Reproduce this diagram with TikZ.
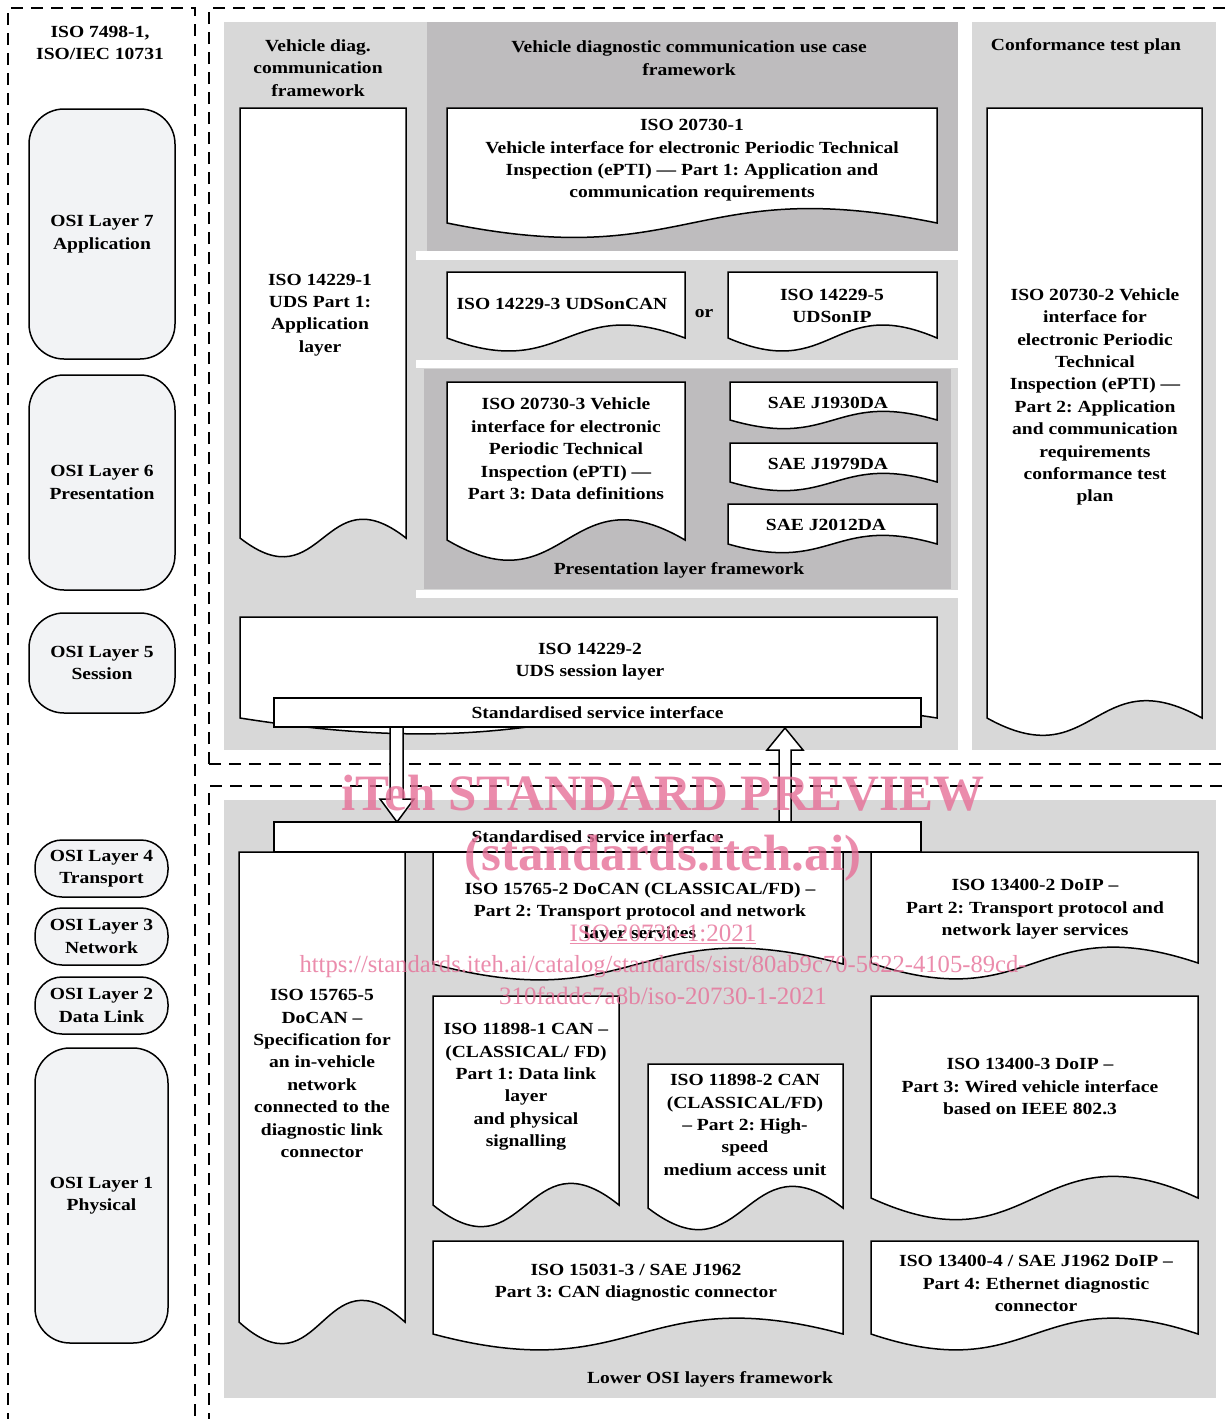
\documentclass[tikz,border=0pt]{standalone}
\usepackage{fontspec}
\setmainfont{Liberation Serif}[FakeStretch=1.15]
\newfontfamily\wmfont{Liberation Serif}
\definecolor{lgray}{RGB}{216,216,216}
\definecolor{dgray}{RGB}{190,188,190}
\definecolor{osifill}{RGB}{242,243,245}
\definecolor{wmpink}{RGB}{230,112,152}
\tikzset{
 dashbox/.style={line width=2.2pt, dash pattern=on 12pt off 8pt},
 docstyle/.style={draw=black, fill=white, line width=1.5pt, line join=miter},
 txt/.style={align=center, inner sep=0pt, yshift=-2pt, font=\frenchspacing\bfseries\fontsize{17}{22.4}\selectfont},
 osi/.style={txt, yshift=2pt, draw=black, fill=osifill, line width=1.5pt, rounded corners=35pt},
 bar/.style={txt, yshift=2pt, draw=black, fill=white, line width=1.5pt},
 blockarrow/.style={draw=black, fill=white, line width=1.5pt, line join=miter},
 wm/.style={text=wmpink, text opacity=0.8, inner sep=0pt},
}
% #1 x0, #2 ytop, #3 x1, #4 ycorner, #5 wave control
\newcommand\mydoc[5]{%
 \filldraw[docstyle] (#1,#4) -- (#1,#2) -- (#3,#2) -- (#3,#4)
   .. controls ({(#1+#3)/2},{#4-#5}) and ({(#1+#3)/2},{#4+#5}) .. (#1,#4) -- cycle;}
\begin{document}
\begin{tikzpicture}[x=1pt,y=-1pt]
\useasboundingbox (0,0) rectangle (1226,1419);
\fill[white] (0,0) rectangle (1226,1419);
% ---------- panels
\fill[lgray] (224,22) rectangle (958,750);
\fill[dgray] (427,22) rectangle (958,251);
\fill[white] (416,251) rectangle (958,260);
\fill[white] (416,360) rectangle (958,368);
\fill[dgray] (424,369) rectangle (951,589);
\fill[white] (416,590) rectangle (958,598);
\fill[lgray] (972,22) rectangle (1216,750);
\fill[lgray] (224,800) rectangle (1216,1398);
% ---------- dashed frames
\draw[dashbox] (8,1425) -- (8,8) -- (195,8) -- (195,1425);
\draw[dashbox] (209,764) -- (209,8) -- (1230,8);
\draw[dashbox] (209,764) -- (1230,764);
\draw[dashbox] (209,1425) -- (209,786) -- (1230,786);
% ---------- left column
\node[txt] (isoosi) at (100,41) {ISO 7498-1,\\ISO/IEC 10731};
\node[osi, minimum width=146pt, minimum height=250pt] (osi7) at (102,234) {OSI Layer 7\\Application};
\node[osi, minimum width=146pt, minimum height=215pt] (osi6) at (102,482.5) {OSI Layer 6\\Presentation};
\node[osi, minimum width=146pt, minimum height=100pt] (osi5) at (102,663) {OSI Layer 5\\Session};
\node[osi, minimum width=133pt, minimum height=57pt, rounded corners=27pt] (osi4) at (101.5,868.5) {OSI Layer 4\\Transport};
\node[osi, minimum width=133pt, minimum height=57pt, rounded corners=27pt] (osi3) at (101.5,936.5) {OSI Layer 3\\Network};
\node[osi, minimum width=133pt, minimum height=57pt, rounded corners=27pt] (osi2) at (101.5,1005.5) {OSI Layer 2\\Data Link};
\node[osi, minimum width=133pt, minimum height=295pt] (osi1) at (101.5,1195.5) {OSI Layer 1\\Physical};
% ---------- upper part
\node[txt] (vdcf) at (318,66) {Vehicle diag.\\communication\\framework};
\mydoc{240}{108}{406}{538}{65}
\node[txt] (iso142291) at (320,313) {ISO 14229-1\\UDS Part 1:\\Application\\layer};
\node[txt] (usecase) at (689,56) {Vehicle diagnostic communication use case\\framework};
\mydoc{447}{108}{937}{223}{50}
\node[txt] (iso207301) at (692,158.5) {ISO 20730-1\\Vehicle interface for electronic Periodic Technical\\Inspection (ePTI) --- Part 1: Application and\\communication requirements};
\mydoc{447}{272}{685}{338}{45}
\node[txt] (udsoncan) at (562,302) {ISO 14229-3 UDSonCAN};
\node[txt] (or) at (704,312) {or};
\mydoc{728}{272}{937}{338}{45}
\node[txt] (udsonip) at (832,304) {ISO 14229-5\\UDSonIP};
\mydoc{447}{382}{685}{540}{70}
\node[txt] (iso207303) at (566,447) {ISO 20730-3 Vehicle\\interface for electronic\\Periodic Technical\\Inspection (ePTI) ---\\Part 3: Data definitions};
\mydoc{730}{382}{937}{420}{30}
\node[txt] (j1930) at (828,401) {SAE J1930DA};
\mydoc{730}{443}{937}{482}{30}
\node[txt] (j1979) at (828,462) {SAE J1979DA};
\mydoc{728}{504}{937}{544}{30}
\node[txt] (j2012) at (826,523) {SAE J2012DA};
\node[txt] (plf) at (679,568) {Presentation layer framework};
\mydoc{240}{617}{937}{718}{55}
\node[txt] (iso142292) at (590,659.5) {ISO 14229-2\\UDS session layer};
% conformance
\node[txt] (ctp) at (1086,44) {Conformance test plan};
\mydoc{987}{108}{1202}{718}{60}
\node[txt] (iso207302) at (1095,395) {ISO 20730-2 Vehicle\\interface for\\electronic Periodic\\Technical\\Inspection (ePTI) ---\\Part 2: Application\\and communication\\requirements\\conformance test\\plan};
% ---------- lower part docs
\mydoc{239}{852}{405}{1322}{75}
\node[txt] (iso157655) at (322,1071.5) {ISO 15765-5\\DoCAN --\\Specification for\\an in-vehicle\\network\\connected to the\\diagnostic link\\connector};
\mydoc{433}{852}{843}{964}{55}
\node[txt] (iso157652) at (640,910.5) {ISO 15765-2 DoCAN (CLASSICAL/FD) --\\Part 2: Transport protocol and network\\layer services};
\mydoc{871}{852}{1198}{963}{55}
\node[txt] (iso134002) at (1035,907.5) {ISO 13400-2 DoIP --\\Part 2: Transport protocol and\\network layer services};
\mydoc{433}{996}{619}{1205}{75}
\node[txt] (iso118981) at (526,1085) {ISO 11898-1 CAN --\\(CLASSICAL/ FD)\\Part 1: Data link\\layer\\and physical\\signalling};
\mydoc{648}{1064}{843}{1208}{75}
\node[txt] (iso118982) at (745,1123) {ISO 11898-2 CAN\\(CLASSICAL/FD)\\-- Part 2: High-\\speed\\medium access unit};
\mydoc{871}{996}{1198}{1198}{75}
\node[txt] (iso134003) at (1030,1084.5) {ISO 13400-3 DoIP --\\Part 3: Wired vehicle interface\\based on IEEE 802.3};
\mydoc{433}{1241}{843}{1334}{55}
\node[txt] (iso150313) at (636,1281) {ISO 15031-3 / SAE J1962\\Part 3: CAN diagnostic connector};
\mydoc{871}{1241}{1198}{1334}{55}
\node[txt] (iso134004) at (1036,1281.5) {ISO 13400-4 / SAE J1962 DoIP --\\Part 4: Ethernet diagnostic\\connector};
\node[txt] (lolf) at (710,1377) {Lower OSI layers framework};
% ---------- arrows and service interface bars
\filldraw[blockarrow] (390,720) -- (403,720) -- (403,799) -- (414,799) -- (397,822) -- (380,799) -- (390,799) -- cycle;
\filldraw[blockarrow] (779,830) -- (779,750) -- (767,750) -- (785,728) -- (803,750) -- (791,750) -- (791,830) -- cycle;
\node[bar, minimum width=647pt, minimum height=29pt] (ssiA) at (597.5,712.5) {Standardised service interface};
\node[bar, minimum width=647pt, minimum height=30pt] (ssiB) at (597.5,837) {Standardised service interface};
% ---------- watermark
\node[wm, anchor=base, font=\wmfont\bfseries\fontsize{51}{51}\selectfont] (wm1) at (663,810) {iTeh STANDARD PREVIEW};
\node[wm, anchor=base, font=\wmfont\bfseries\fontsize{51}{51}\selectfont] (wm2) at (663,870) {(standards.iteh.ai)};
\node[wm, anchor=base, font=\wmfont\fontsize{25}{25}\selectfont] (wm3) at (663,941) {\underline{ISO 20730-1:2021}};
\node[wm, anchor=base, font=\wmfont\fontsize{24.6}{25}\selectfont] (wm4) at (663,972) {https://standards.iteh.ai/catalog/standards/sist/80ab9c70-5622-4105-89cd-};
\node[wm, anchor=base, font=\wmfont\fontsize{25}{25}\selectfont] (wm5) at (663,1004) {310faddc7a8b/iso-20730-1-2021};
\end{tikzpicture}
\end{document}
